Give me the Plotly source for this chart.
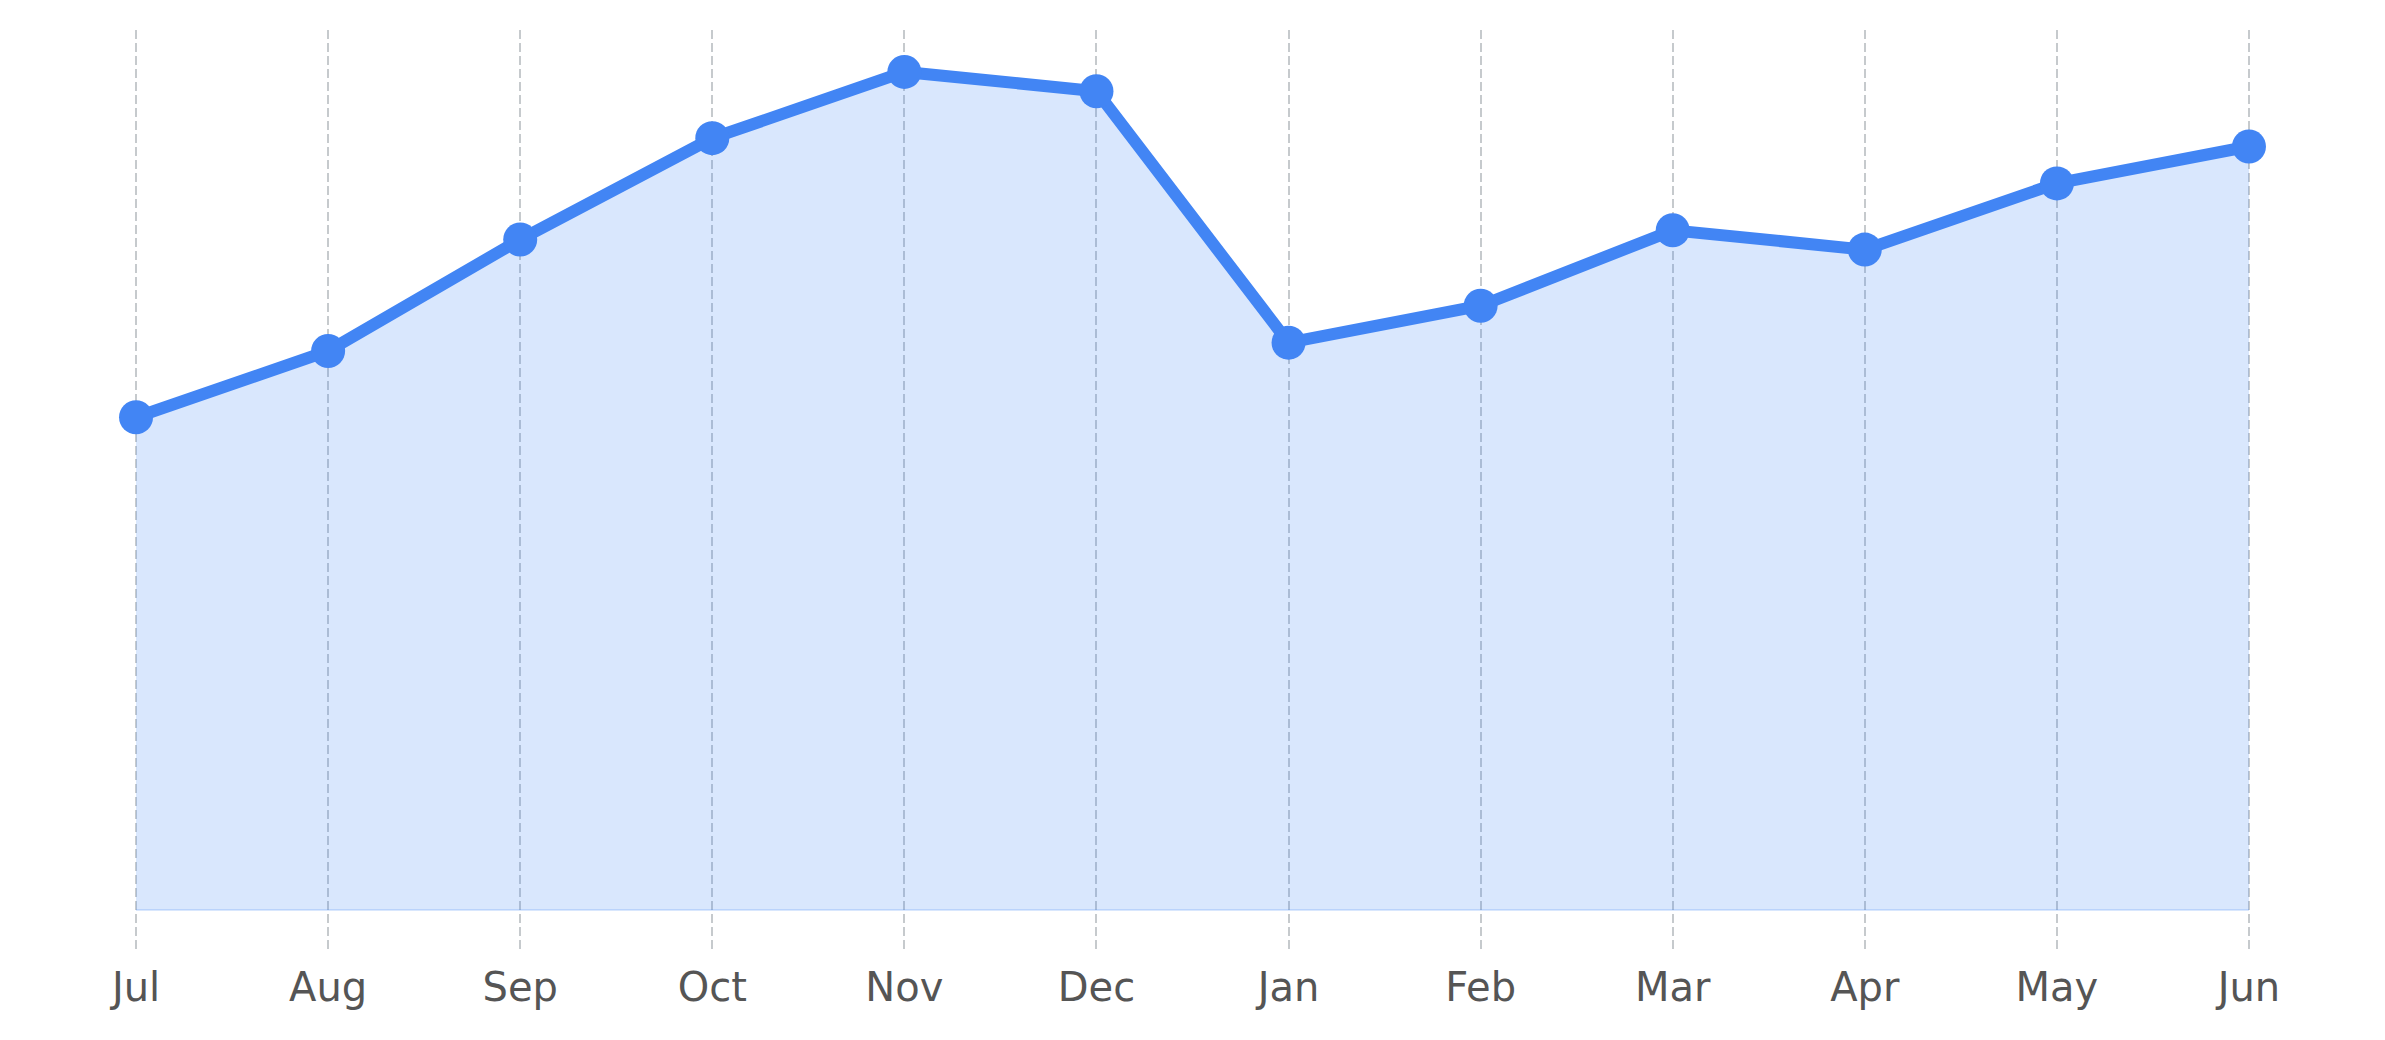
"""Monthly trend area chart."""

import plotly.graph_objects as go

MONTHS = ["Jul", "Aug", "Sep", "Oct", "Nov", "Dec", "Jan", "Feb", "Mar", "Apr", "May", "Jun"]
VALUES = [58.8, 66.7, 80.0, 92.1, 100.0, 97.7, 67.7, 72.1, 81.1, 78.8, 86.7, 91.1]
BASELINE = [0] * len(MONTHS)

LINE_COLOR = "#4285f4"
FILL_COLOR = "rgba(66, 133, 244, 0.2)"
GRID_COLOR = "#c6cacd"

fig = go.Figure()
fig.add_scatter(
    x=MONTHS,
    y=VALUES,
    mode="lines",
    fill="tozeroy",
    fillcolor=FILL_COLOR,
    line=dict(width=2, color="rgba(66, 133, 244, 0.15)"),
    hoverinfo="skip",
    showlegend=False,
)
fig.add_scatter(
    x=MONTHS,
    y=BASELINE,
    mode="lines",
    line=dict(width=2, color="rgba(66, 133, 244, 0.2)"),
    hoverinfo="skip",
    showlegend=False,
)
fig.add_scatter(
    x=MONTHS,
    y=VALUES,
    mode="lines+markers",
    line=dict(width=12, color=LINE_COLOR),
    marker=dict(size=34, color=LINE_COLOR),
    showlegend=False,
)

# page body has an 8px margin, so offsets are shifted by that
fig.update_layout(
    width=2385,
    height=1040,
    margin=dict(l=32, r=48, t=22, b=96),
    paper_bgcolor="white",
    plot_bgcolor="white",
    font=dict(family="DejaVu Sans", size=40, color="#555555"),
)
fig.update_xaxes(
    range=[-0.5, 11.5],
    showgrid=True,
    gridcolor=GRID_COLOR,
    gridwidth=2,
    griddash="9px,4px",
    showline=False,
    zeroline=False,
    ticks="",
    ticklabelstandoff=8,
)
fig.update_yaxes(
    range=[-5, 105],
    showgrid=False,
    zeroline=False,
    showline=False,
    showticklabels=False,
)

fig.write_html("out.html")
